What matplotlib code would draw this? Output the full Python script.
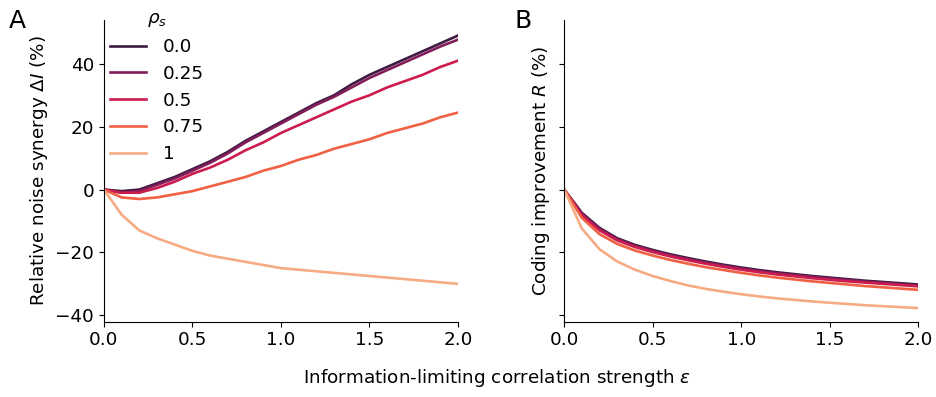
import numpy as np
import matplotlib
matplotlib.use("Agg")
import matplotlib.pyplot as plt
import seaborn as sns

eps = [0.0, 0.1, 0.2, 0.3, 0.4, 0.5, 0.6, 0.7, 0.8, 0.9, 1.0,
       1.1, 1.2, 1.3, 1.4, 1.5, 1.6, 1.7, 1.8, 1.9, 2.0]
rho_labels = ["0.0", "0.25", "0.5", "0.75", "1"]

synergy_00 = [0, -0.5, 0, 2, 4, 6.5, 9, 12, 15.5, 18.5, 21.5, 24.5, 27.5, 30, 33.5, 36.5, 39, 41.5, 44, 46.5, 49]
synergy_025 = [0, -1, -0.5, 1.5, 3.5, 6, 8.5, 11.5, 15, 18, 21, 24, 27, 29.5, 32.5, 35.5, 38, 40.5, 43, 45.5, 47.7]
synergy_05 = [0, -1, -1, 0.5, 2.5, 5, 7, 9.5, 12.5, 15, 18, 20.5, 23, 25.5, 28, 30, 32.5, 34.5, 36.5, 39, 41]
synergy_075 = [0, -2.5, -3, -2.5, -1.5, -0.5, 1, 2.5, 4, 6, 7.5, 9.5, 11, 13, 14.5, 16, 18, 19.5, 21, 23, 24.5]
synergy_1 = [0, -8, -13, -15.5, -17.5, -19.5, -21, -22, -23, -24, -25, -25.5, -26, -26.5, -27, -27.5, -28, -28.5, -29, -29.5, -30]

improve_00 = [0, -7.4, -12.2, -15.5, -17.6, -19.2, -20.6, -21.8, -22.9, -23.9, -24.8, -25.6, -26.3, -26.9, -27.5, -28.0, -28.5, -29.0, -29.4, -29.8, -30.2]
improve_025 = [0, -7.7, -12.5, -15.8, -17.9, -19.5, -20.9, -22.1, -23.2, -24.2, -25.1, -25.9, -26.6, -27.2, -27.8, -28.3, -28.8, -29.3, -29.7, -30.1, -30.5]
improve_05 = [0, -8.2, -13.0, -16.2, -18.3, -19.9, -21.3, -22.5, -23.6, -24.6, -25.5, -26.3, -27.0, -27.6, -28.2, -28.7, -29.2, -29.6, -30.0, -30.4, -30.8]
improve_075 = [0, -9.0, -14.2, -17.3, -19.4, -21.0, -22.4, -23.6, -24.7, -25.6, -26.5, -27.3, -28.0, -28.6, -29.2, -29.7, -30.2, -30.7, -31.1, -31.5, -31.9]
improve_1 = [0, -12.4, -19.0, -22.9, -25.5, -27.5, -29.1, -30.5, -31.6, -32.5, -33.3, -34.0, -34.6, -35.1, -35.6, -36.0, -36.4, -36.8, -37.1, -37.4, -37.7]

synergy = [synergy_00, synergy_025, synergy_05, synergy_075, synergy_1]
improve = [improve_00, improve_025, improve_05, improve_075, improve_1]

FS = 13.2
plt.rcParams['font.family'] = ['DejaVu Sans']
plt.rcParams['font.size'] = FS

colors = sns.color_palette("rocket", 5)

fig, (axA, axB) = plt.subplots(1, 2, figsize=(9.36, 3.97), dpi=100, sharey=True)
fig.subplots_adjust(left=0.111, right=0.981, top=0.95, bottom=0.19, wspace=0.3)

for lab, c, ys in zip(rho_labels, colors, synergy):
    axA.plot(eps, ys, color=c, lw=1.9, label=lab)
for lab, c, ys in zip(rho_labels, colors, improve):
    axB.plot(eps, ys, color=c, lw=1.9, label=lab)

for ax in (axA, axB):
    ax.set_xlim(0, 2)
    ax.set_xticks([0, 0.5, 1.0, 1.5, 2.0])
    ax.spines['top'].set_visible(False)
    ax.spines['right'].set_visible(False)
    ax.tick_params(labelsize=FS)

axA.set_ylim(-42, 54)
axA.set_yticks([-40, -20, 0, 20, 40])
axB.tick_params(labelleft=False)

axA.set_ylabel(r"Relative noise synergy $\Delta I$ (%)", fontsize=FS)
axB.set_ylabel(r"Coding improvement $R$ (%)", fontsize=FS)
axB.yaxis.set_label_coords(-0.035, 0.5)

leg = axA.legend(title=r"$\rho_s$", frameon=False, loc="upper left",
                 bbox_to_anchor=(-0.03, 1.09), fontsize=FS, title_fontsize=FS,
                 handlelength=2.0, labelspacing=0.48, handletextpad=0.9)

fig.text(0.531, 0.02, r"Information-limiting correlation strength $\varepsilon$",
         fontsize=FS, ha="center", va="bottom")

fig.text(0.009, 0.93, "A", fontsize=18)
fig.text(0.55, 0.93, "B", fontsize=18)

fig.savefig("out.png", dpi=100)
